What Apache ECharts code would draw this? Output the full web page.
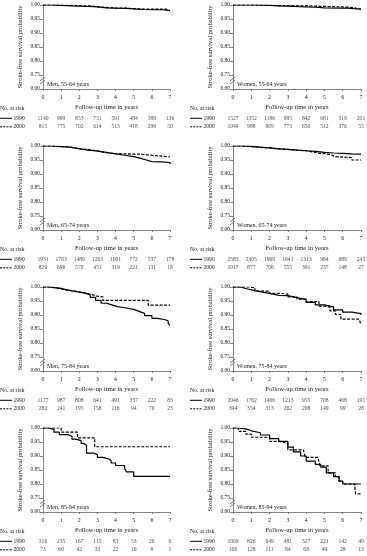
<!DOCTYPE html>
<html><head><meta charset="utf-8">
<script src="https://cdn.jsdelivr.net/npm/echarts@6/dist/echarts.min.js"></script>
<style>html,body{margin:0;padding:0;background:#fff}#c{width:367px;height:556px}</style>
</head><body><div id="c"></div>
<script>
// ---------- data ----------
const years = [0, 1, 2, 3, 4, 5, 6, 7];
const panelTitles = ['Men, 55-64 years','Women, 55-64 years','Men, 65-74 years','Women, 65-74 years',
  'Men, 75-84 years','Women, 75-84 years','Men, 85-94 years','Women, 85-94 years'];
const cohortLabels = ['1990', '2000'];
const yTickLabels = ['0.00','0.75','0.80','0.85','0.90','0.95','1.00'];

const men5564_1990 = [[0,1],[0.5,0.999],[1,0.997],[1.6,0.996],[2,0.995],[2.5,0.993],[3,0.99],[3.5,0.989],[4,0.988],[4.6,0.986],[5,0.984],[5.5,0.983],[6,0.983],[6.6,0.981],[6.9,0.978],[7,0.978]];
const men5564_2000 = [[0,1],[0.6,0.999],[1.2,0.998],[2,0.996],[2.7,0.993],[3.1,0.989],[4,0.989],[4.5,0.987],[5,0.985],[6,0.985],[6.8,0.982],[6.95,0.979],[7,0.979]];
const women5564_1990 = [[0,1],[1.3,0.999],[2,0.997],[2.5,0.996],[3,0.994],[3.6,0.993],[4,0.992],[4.5,0.99],[5,0.989],[6,0.989],[6.3,0.987],[6.6,0.985],[7,0.984]];
const women5564_2000 = [[0,1],[1,0.999],[1.8,0.998],[2.5,0.998],[3,0.997],[3.5,0.997],[4,0.995],[5,0.993],[6,0.992],[6.4,0.99],[6.6,0.985],[7,0.984]];
const men6574_1990 = [[0,1],[0.5,0.998],[1,0.996],[1.5,0.99],[2,0.985],[2.5,0.982],[3,0.977],[3.5,0.972],[4,0.967],[4.5,0.962],[5,0.956],[5.4,0.95],[5.7,0.944],[6,0.943],[6.5,0.941],[7,0.936]];
const men6574_2000 = [[0,1],[0.5,0.998],[1,0.996],[1.5,0.991],[2,0.987],[2.5,0.983],[3,0.978],[3.3,0.974],[3.7,0.973],[4,0.971],[5,0.971],[5.3,0.968],[5.8,0.967],[6,0.961],[7,0.961]];
const women6574_1990 = [[0,1],[0.5,0.999],[1,0.996],[1.5,0.993],[2,0.99],[2.5,0.988],[3,0.985],[3.5,0.983],[4,0.981],[4.5,0.977],[5,0.975],[5.5,0.974],[6,0.972],[6.5,0.971],[7,0.969]];
const women6574_2000 = [[0,1],[0.5,0.998],[1,0.995],[1.5,0.993],[2,0.99],[2.5,0.988],[3,0.985],[3.5,0.983],[4,0.981],[4.2,0.974],[4.7,0.973],[5,0.968],[5.4,0.962],[5.6,0.959],[6.5,0.95],[7,0.95]];
const men7584_1990 = [[0,1],[0.3,0.998],[0.6,0.995],[1,0.99],[1.3,0.986],[1.6,0.982],[2,0.978],[2.3,0.972],[2.6,0.963],[2.9,0.952],[3.2,0.942],[3.5,0.936],[3.8,0.93],[4.1,0.926],[4.5,0.92],[5,0.913],[5.3,0.906],[5.6,0.898],[6,0.888],[6.3,0.884],[6.7,0.879],[6.9,0.87],[7,0.862]];
const men7584_2000 = [[0,1],[0.4,0.997],[0.8,0.993],[1,0.988],[1.5,0.983],[2,0.979],[2.3,0.973],[2.7,0.967],[3,0.965],[3.3,0.952],[5.8,0.935],[7,0.935]];
const women7584_1990 = [[0,1],[0.4,0.993],[0.8,0.987],[1.2,0.982],[1.6,0.977],[2,0.97],[2.5,0.969],[3,0.962],[3.5,0.955],[4,0.945],[4.5,0.936],[5,0.929],[5.5,0.918],[6,0.91],[6.5,0.905],[7,0.9]];
const women7584_2000 = [[0,1],[0.5,1],[0.9,0.997],[1.2,0.985],[1.6,0.985],[2,0.977],[2.6,0.975],[3,0.965],[3.5,0.957],[4,0.948],[4.7,0.932],[5,0.928],[5.3,0.915],[5.6,0.902],[5.9,0.885],[6.9,0.885],[7,0.865]];
const men8594_1990 = [[0,1],[0.3,0.995],[0.6,0.985],[0.9,0.976],[1.4,0.97],[1.6,0.96],[1.8,0.955],[2.1,0.945],[2.25,0.938],[2.4,0.91],[2.8,0.905],[3.0,0.895],[3.3,0.89],[3.6,0.884],[3.75,0.875],[4.0,0.866],[4.5,0.855],[4.6,0.843],[5.0,0.827],[7,0.827]];
const men8594_2000 = [[0,1],[1.0,0.985],[1.9,0.965],[2.85,0.933],[7,0.933]];
const women8594_1990 = [[0,1],[0.3,0.997],[0.7,0.99],[1,0.983],[1.5,0.975],[2,0.962],[2.5,0.952],[3,0.932],[3.3,0.915],[3.7,0.9],[4,0.882],[4.5,0.87],[4.8,0.86],[5.1,0.84],[5.5,0.826],[5.8,0.81],[6,0.8],[7,0.8]];
const women8594_2000 = [[0,1],[0.3,0.988],[0.7,0.978],[1,0.967],[1.8,0.967],[2,0.952],[2.5,0.945],[3,0.922],[3.85,0.922],[3.95,0.895],[4.65,0.895],[4.75,0.865],[5.2,0.84],[5.6,0.826],[5.8,0.81],[6,0.8],[6.65,0.8],[6.7,0.765],[7,0.765]];

const risk_men5564_1990 = [1140,999,853,731,591,484,389,136];
const risk_men5564_2000 = [815,775,702,614,513,418,299,50];
const risk_women5564_1990 = [1527,1352,1186,995,842,681,519,201];
const risk_women5564_2000 = [1049,988,909,773,650,512,376,55];
const risk_men6574_1990 = [1931,1703,1489,1263,1001,772,537,178];
const risk_men6574_2000 = [820,696,570,451,319,221,131,18];
const risk_women6574_1990 = [2583,2305,1969,1641,1313,984,689,245];
const risk_women6574_2000 = [1017,877,706,555,391,237,148,27];
const risk_men7584_1990 = [1177,987,808,641,491,337,222,83];
const risk_men7584_2000 = [282,241,195,158,116,94,70,23];
const risk_women7584_1990 = [2046,1762,1466,1213,955,708,468,191];
const risk_women7584_2000 = [394,354,313,262,208,149,99,28];
const risk_men8594_1990 = [316,235,167,115,83,53,26,6];
const risk_men8594_2000 = [73,60,42,33,22,16,8,1];
const risk_women8594_1990 = [1009,826,649,481,327,221,142,49];
const risk_women8594_2000 = [166,128,111,84,68,49,28,13];

const curves = [
  [men5564_1990, men5564_2000],[women5564_1990, women5564_2000],
  [men6574_1990, men6574_2000],[women6574_1990, women6574_2000],
  [men7584_1990, men7584_2000],[women7584_1990, women7584_2000],
  [men8594_1990, men8594_2000],[women8594_1990, women8594_2000]];
const risks = [
  [risk_men5564_1990, risk_men5564_2000],[risk_women5564_1990, risk_women5564_2000],
  [risk_men6574_1990, risk_men6574_2000],[risk_women6574_1990, risk_women6574_2000],
  [risk_men7584_1990, risk_men7584_2000],[risk_women7584_1990, risk_women7584_2000],
  [risk_men8594_1990, risk_men8594_2000],[risk_women8594_1990, risk_women8594_2000]];

// ---------- layout ----------
const FONT = '"Liberation Serif", "DejaVu Serif", serif';
const TXT = '#222';
const AX = '#666';
const rowTops = [5, 146, 287, 428];
const colLeft = [43, 233];
const colWidth = [127, 128];
const PH = 84;

const grid = [], xAxis = [], yAxis = [], series = [], graphic = [];
for (let i = 0; i < 8; i++) {
  const col = i % 2, row = Math.floor(i / 2);
  const top = rowTops[row], left = colLeft[col], w = colWidth[col];
  grid.push({left: left, top: top, width: w, height: PH});
  xAxis.push({gridIndex: 2*i, type: 'value', min: 0, max: 7, interval: 1,
    axisLine: {show: true, onZero: false, lineStyle: {color: AX, width: 0.8}},
    axisTick: {show: true, length: 2, lineStyle: {color: AX, width: 0.8}},
    axisLabel: {fontSize: 5.8, fontFamily: FONT, color: TXT, margin: 5,
      formatter: v => String(years[Math.round(v)])},
    splitLine: {show: false},
    name: 'Follow-up time in years', nameLocation: 'middle', nameGap: 15,
    nameTextStyle: {fontSize: 6.6, fontFamily: FONT, color: TXT}});
  yAxis.push({gridIndex: 2*i, type: 'value', min: 0.70, max: 1.0, interval: 0.05,
    axisLine: {show: true, onZero: false, lineStyle: {color: AX, width: 0.8}},
    axisTick: {show: true, length: 3, lineStyle: {color: AX, width: 0.8}},
    axisLabel: {fontSize: 5.5, fontFamily: FONT, color: TXT, margin: 3, showMinLabel: true,
      formatter: v => yTickLabels[Math.round((v - 0.70) / 0.05)]},
    splitLine: {show: false},
    name: 'Stroke-free survival probability', nameLocation: 'middle', nameGap: 19,
    nameTextStyle: {fontSize: 6.6, fontFamily: FONT, color: TXT}});
  grid.push({left: left, top: top + 109, width: w, height: 17});
  xAxis.push({gridIndex: 2*i+1, type: 'value', min: 0, max: 7, show: false});
  yAxis.push({gridIndex: 2*i+1, type: 'value', min: 0, max: 2, show: false});

  curves[i].forEach((d, k) => {
    series.push({type: 'line', xAxisIndex: 2*i, yAxisIndex: 2*i, data: d, step: 'end',
      showSymbol: false, symbol: 'none', silent: true, z: k ? 3 : 2,
      lineStyle: {color: '#000', width: 1.2, type: k ? [3, 1.5] : 'solid'}});
  });
  risks[i].forEach((arr, k) => {
    series.push({type: 'scatter', xAxisIndex: 2*i+1, yAxisIndex: 2*i+1,
      data: arr.map((v, j) => [years[j], k ? 0.5 : 1.5, v]),
      symbolSize: 1, itemStyle: {color: 'rgba(0,0,0,0)'}, silent: true,
      label: {show: true, position: 'inside', formatter: p => String(p.value[2]),
        fontSize: 5.6, fontFamily: FONT, color: TXT}});
  });

  const lx = col ? 190 : 0;
  graphic.push({type: 'text', x: lx, y: top + 103, style: {text: 'No. at risk', font: '5.8px ' + FONT, fill: TXT, textVerticalAlign: 'middle', verticalAlign: 'middle'}});
  [0, 1].forEach(k => {
    const yy = top + 113.3 + k * 8.5;
    graphic.push({type: 'line', shape: {x1: lx, y1: yy, x2: lx + 12, y2: yy},
      style: {stroke: '#000', lineWidth: 1, lineDash: k ? [2, 1.2] : null}});
    graphic.push({type: 'text', x: lx + 13.5, y: yy, style: {text: cohortLabels[k], font: '5.6px ' + FONT, fill: TXT, textVerticalAlign: 'middle', verticalAlign: 'middle'}});
  });
  graphic.push({type: 'text', x: left + 4, y: top + 79, style: {text: panelTitles[i], font: '6px ' + FONT, fill: TXT, textVerticalAlign: 'middle', verticalAlign: 'middle'}});
  [0, 3].forEach(o => {
    graphic.push({type: 'line', shape: {x1: left - 3, y1: top + 76 + o, x2: left + 2, y2: top + 72 + o},
      style: {stroke: '#555', lineWidth: 0.8}});
  });
}

const chart = echarts.init(document.getElementById('c'), null, {renderer: 'canvas'});
chart.setOption({animation: false, backgroundColor: '#fff', grid, xAxis, yAxis, series, graphic});
</script></body></html>
